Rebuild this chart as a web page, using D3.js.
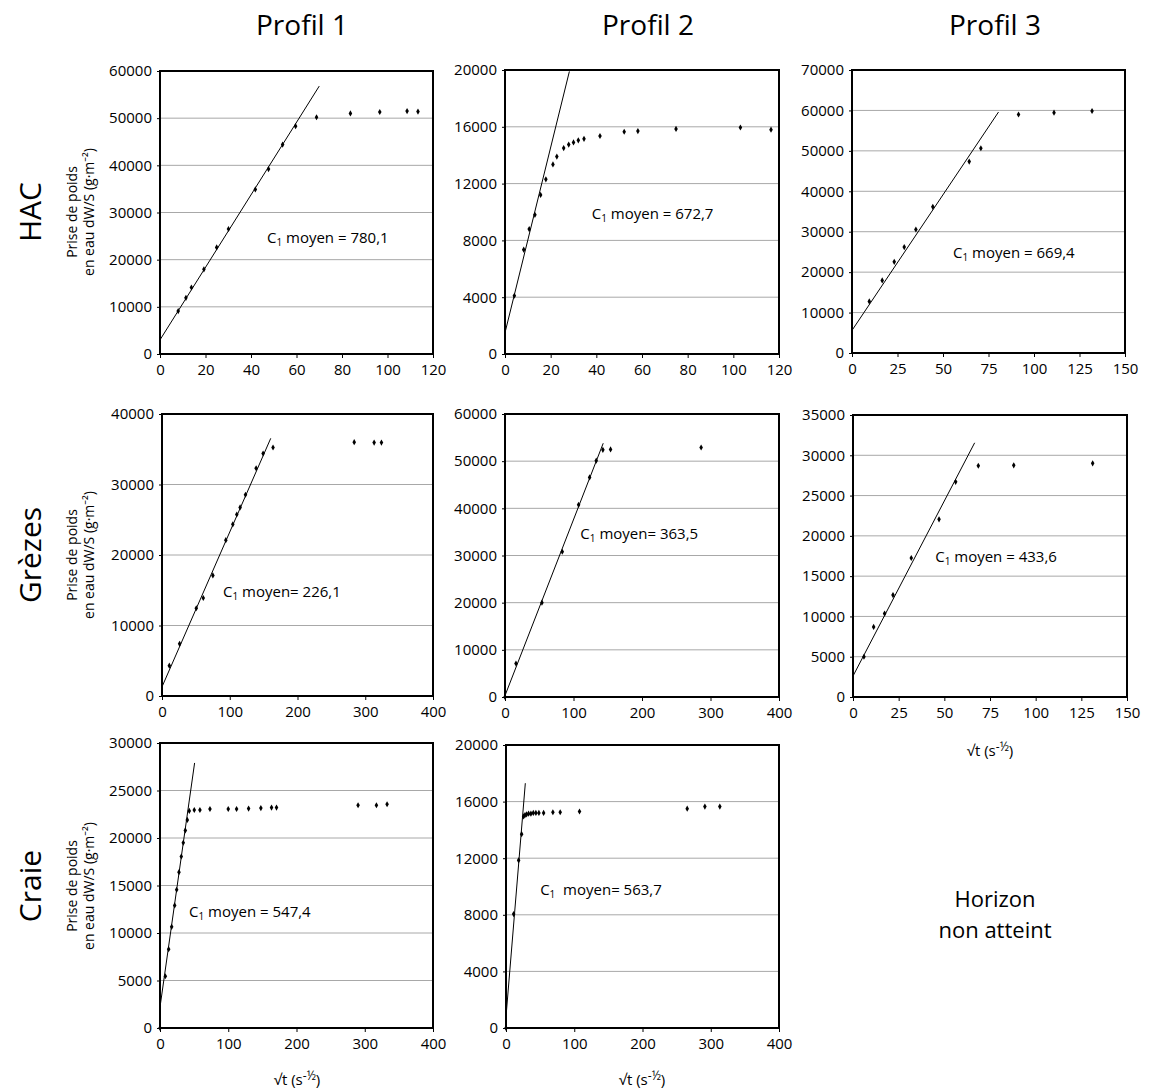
<!DOCTYPE html>
<html><head><meta charset="utf-8">
<script src="https://cdn.jsdelivr.net/npm/d3@7"></script>
<style>
body{margin:0;background:#fff}
text{font-family:"Open Sans","Noto Sans",sans-serif;fill:#000}
</style>
</head><body>
<svg id="chart" width="1150" height="1090"></svg>
<script>
// ---------- data ----------
const profils = ["Profil 1", "Profil 2", "Profil 3"];
const horizons = ["HAC", "Grèzes", "Craie"];
const yTitle = ["Prise de poids", "en eau dW/S (g·m⁻²)"];
const xTitle = "√t (s";
const missingText = ["Horizon", "non atteint"];

// HAC – Profil 1
const hacP1 = [[8.0,9100],[11.4,11900],[13.8,14100],[19.3,17950],[24.9,22600],[30.1,26500],[41.9,34900],[47.7,39200],[53.9,44400],[59.6,48300],[68.8,50200],[83.7,51000],[96.6,51300],[108.6,51500],[113.4,51400]];
const hacP1Fit = [[0,3000],[70,56800]];
const hacP1X = [0,20,40,60,80,100,120];
const hacP1Y = [0,10000,20000,30000,40000,50000,60000];

// HAC – Profil 2
const hacP2 = [[4.1,4100],[8.2,7350],[10.6,8800],[13.1,9800],[15.6,11200],[17.9,12300],[21.0,13350],[22.7,13900],[25.7,14500],[27.9,14750],[30.0,14900],[32.1,15050],[34.6,15150],[41.6,15350],[52.2,15650],[58.2,15700],[74.9,15850],[103.1,15950],[116.5,15800]];
const hacP2Fit = [[0,1500],[28.2,19900]];
const hacP2X = [0,20,40,60,80,100,120];
const hacP2Y = [0,4000,8000,12000,16000,20000];

// HAC – Profil 3
const hacP3 = [[9.5,12750],[16.6,17950],[23.2,22550],[28.7,26200],[35.1,30550],[44.4,36150],[64.4,47350],[70.8,50650],[91.5,59000],[111.0,59450],[131.9,59850]];
const hacP3Fit = [[0,5600],[80.5,59600]];
const hacP3X = [0,25,50,75,100,125,150];
const hacP3Y = [0,10000,20000,30000,40000,50000,60000,70000];

// Grèzes – Profil 1
const grezP1 = [[10.8,4300],[26.0,7400],[50.6,12450],[60.9,13900],[75.1,17100],[94.2,22100],[104.5,24350],[110.4,25750],[115.3,26750],[123.2,28550],[138.9,32300],[149.2,34400],[163.9,35250],[283.7,36000],[313.1,35950],[323.9,35950]];
const grezP1Fit = [[0,1300],[160.5,36550]];
const grezP1X = [0,100,200,300,400];
const grezP1Y = [0,10000,20000,30000,40000];

// Grèzes – Profil 2
const grezP2 = [[0,0],[16.0,7100],[53.9,20000],[83.6,30800],[107.4,40750],[123.5,46550],[133.2,50100],[142.9,52400],[154.1,52500],[286.3,52900]];
const grezP2Fit = [[0,300],[143.4,53800]];
const grezP2X = [0,100,200,300,400];
const grezP2Y = [0,10000,20000,30000,40000,50000,60000];

// Grèzes – Profil 3
const grezP3 = [[6.0,5000],[11.3,8700],[17.3,10350],[21.9,12650],[31.9,17250],[47.1,22050],[56.2,26700],[68.6,28700],[88.0,28750],[131.2,29000]];
const grezP3Fit = [[0,2600],[66.6,31550]];
const grezP3X = [0,25,50,75,100,125,150];
const grezP3Y = [0,5000,10000,15000,20000,25000,30000,35000];

// Craie – Profil 1
const craieP1 = [[0,0],[7.8,5450],[12.7,8300],[17.1,10650],[21.5,12900],[24.4,14550],[27.8,16400],[31.2,18050],[34.1,19500],[37.1,20800],[40.0,21900],[42.9,22850],[50.2,22950],[58.5,22950],[73.2,23050],[100.0,23050],[112.2,23050],[129.8,23100],[147.8,23150],[163.4,23200],[170.7,23200],[290.2,23450],[317.1,23450],[332.7,23550]];
const craieP1Fit = [[0,2200],[50.7,27900]];
const craieP1X = [0,100,200,300,400];
const craieP1Y = [0,5000,10000,15000,20000,25000,30000];

// Craie – Profil 2
const craieP2 = [[0,0],[11.2,8050],[18.5,11850],[22.9,13700],[25.8,14950],[27.8,15050],[30.2,15100],[33.1,15150],[36.5,15150],[40.0,15200],[43.8,15200],[48.2,15200],[55.1,15200],[68.7,15250],[79.4,15250],[107.7,15300],[265.5,15500],[291.4,15650],[313.3,15650]];
const craieP2Fit = [[0,800],[28.3,17300]];
const craieP2X = [0,100,200,300,400];
const craieP2Y = [0,4000,8000,12000,16000,20000];

// C1 moyen values and their anchor (data units)
const c1Labels = ["780,1","672,7","669,4","226,1","363,5","433,6","547,4","563,7"];
const c1Sep    = [" = "," = "," = ","= ","= "," = "," = ","= "];
const c1Anchor = [[47,23500],[38,9500],[55.5,23500],[90,14000],[110,33500],[45,16750],[42.5,11700],[50,9400]];

// ---------- layout ----------
const boxes = [
  [160,71,433,354],[505,70,779,354],[852,70,1125,353],
  [162,414,433,696],[505,414,779,697],[853,415,1127,697],
  [160,743,433,1028],[506,745,779,1028]
];
const panels = [
  {pts:hacP1, fit:hacP1Fit, xt:hacP1X, yt:hacP1Y},
  {pts:hacP2, fit:hacP2Fit, xt:hacP2X, yt:hacP2Y},
  {pts:hacP3, fit:hacP3Fit, xt:hacP3X, yt:hacP3Y},
  {pts:grezP1, fit:grezP1Fit, xt:grezP1X, yt:grezP1Y},
  {pts:grezP2, fit:grezP2Fit, xt:grezP2X, yt:grezP2Y},
  {pts:grezP3, fit:grezP3Fit, xt:grezP3X, yt:grezP3Y},
  {pts:craieP1, fit:craieP1Fit, xt:craieP1X, yt:craieP1Y},
  {pts:craieP2, fit:craieP2Fit, xt:craieP2X, yt:craieP2Y}
];

const svg = d3.select("#chart");

panels.forEach((p, i) => {
  const [l,t,r,b] = boxes[i];
  const x = d3.scaleLinear().domain(d3.extent(p.xt)).range([l, r]);
  const y = d3.scaleLinear().domain(d3.extent(p.yt)).range([b, t]);
  const g = svg.append("g");
  const clipId = "clip" + i;
  svg.append("clipPath").attr("id", clipId).append("rect")
     .attr("x", l).attr("y", t).attr("width", r - l).attr("height", b - t);

  // gridlines
  g.selectAll("line.grid").data(p.yt.slice(1, -1)).join("line")
    .attr("x1", l).attr("x2", r)
    .attr("y1", d => y(d)).attr("y2", d => y(d))
    .attr("stroke", "#a8a8a8").attr("stroke-width", 1);

  // axes
  const ax = g.append("g").attr("transform", `translate(0,${b})`)
    .call(d3.axisBottom(x).tickValues(p.xt).tickSize(4).tickPadding(6).tickFormat(d3.format("d")));
  const ay = g.append("g").attr("transform", `translate(${l},0)`)
    .call(d3.axisLeft(y).tickValues(p.yt).tickSize(3).tickPadding(5).tickFormat(d3.format("d")));
  [ax, ay].forEach(a => {
    a.select(".domain").remove();
    a.selectAll("text").attr("font-size", 15).attr("font-family", '"Open Sans",sans-serif').attr("fill", "#000");
    a.selectAll("line").attr("stroke", "#000");
  });

  // border
  g.append("rect").attr("x", l).attr("y", t).attr("width", r - l).attr("height", b - t)
    .attr("fill", "none").attr("stroke", "#000").attr("stroke-width", 2);

  // fit line
  g.append("path").attr("clip-path", `url(#${clipId})`)
    .attr("d", d3.line().x(d => x(d[0])).y(d => y(d[1]))(p.fit))
    .attr("fill", "none").attr("stroke", "#000").attr("stroke-width", 1);

  // points
  g.selectAll("path.pt").data(p.pts).join("path")
    .attr("transform", d => `translate(${x(d[0])},${y(d[1])})`)
    .attr("d", d3.symbol().type(d3.symbolDiamond).size(11))
    .attr("fill", "#000");

  // annotation
  const a = c1Anchor[i];
  const tx = g.append("text").attr("x", x(a[0])).attr("y", y(a[1])).attr("font-size", 15);
  tx.append("tspan").text("C");
  tx.append("tspan").attr("font-size", 10).attr("dy", 3).text("1");
  tx.append("tspan").attr("dy", -3).text(i === 7 ? "\u00a0\u00a0moyen" + c1Sep[i] + c1Labels[i] : " moyen" + c1Sep[i] + c1Labels[i]);
});

// column titles
const colCenters = [302, 648, 995];
svg.selectAll("text.col").data(profils).join("text")
  .attr("x", (d, i) => colCenters[i]).attr("y", 35)
  .attr("text-anchor", "middle").attr("font-size", 28).text(d => d);

// row titles + y-axis titles
const rowCenters = [212, 555, 886];
horizons.forEach((h, i) => {
  const cy = rowCenters[i];
  svg.append("text").attr("transform", `translate(41,${cy}) rotate(-90)`)
    .attr("text-anchor", "middle").attr("font-size", 30).text(h);
  yTitle.forEach((line, k) => {
    svg.append("text").attr("transform", `translate(${77 + k * 17},${cy}) rotate(-90)`)
      .attr("text-anchor", "middle").attr("font-size", 14).text(line);
  });
});

// x-axis titles
const xTitlePos = [[990, 756], [297, 1085], [642, 1085]];
xTitlePos.forEach(([cx, cy]) => {
  const t = svg.append("text").attr("x", cx).attr("y", cy).attr("text-anchor", "middle").attr("font-size", 15);
  t.append("tspan").text(xTitle);
  t.append("tspan").attr("font-size", 12).attr("dy", -5).text("-½");
  t.append("tspan").attr("dy", 5).text(")");
});

// missing panel text
svg.selectAll("text.miss").data(missingText).join("text")
  .attr("x", 995).attr("y", (d, i) => 907 + i * 31)
  .attr("text-anchor", "middle").attr("font-size", 22).text(d => d);
</script>
</body></html>
